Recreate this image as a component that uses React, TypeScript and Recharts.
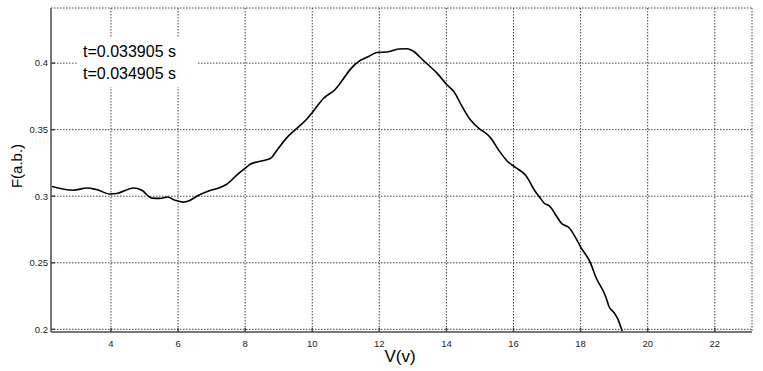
import React from 'react';
import { LineChart, Line, XAxis, YAxis, CartesianGrid } from 'recharts';

const voltages = [
  2.21, 2.88, 3.28, 3.57, 3.97, 4.17, 4.67, 4.92, 5.22, 5.46, 5.69, 5.91, 6.16, 6.31, 6.61, 6.91,
  7.25, 7.45, 7.8, 8.05, 8.15, 8.45, 8.75, 8.95, 9.25, 9.54, 9.84, 10.02, 10.34, 10.69, 10.89,
  11.14, 11.43, 11.68, 11.93, 12.23, 12.58, 12.83, 13.03, 13.23, 13.42, 13.72, 14.02, 14.22,
  14.47, 14.72, 14.97, 15.31, 15.56, 15.81, 16.06, 16.36, 16.66, 16.81, 16.91, 17.05, 17.45,
  17.65, 17.9, 18.0, 18.3, 18.45, 18.75, 18.85, 19.0, 19.1, 19.27,
];
const forces = [
  0.3075, 0.3045, 0.3062, 0.305, 0.3017, 0.302, 0.3062, 0.3045, 0.2986, 0.2984, 0.2994, 0.2969,
  0.2956, 0.2964, 0.3007, 0.3039, 0.3065, 0.309, 0.317, 0.322, 0.324, 0.3263, 0.3283, 0.3346,
  0.3442, 0.351, 0.358, 0.3635, 0.3736, 0.3804, 0.3869, 0.3955, 0.402, 0.405, 0.408, 0.4083,
  0.4106, 0.4108, 0.4087, 0.404, 0.3995, 0.3925, 0.3836, 0.3786, 0.3673, 0.3572, 0.351, 0.3442,
  0.3346, 0.3265, 0.3216, 0.3158, 0.3032, 0.2982, 0.2949, 0.2931, 0.2793, 0.2765, 0.2667, 0.262,
  0.2496, 0.2395, 0.2245, 0.217, 0.2125, 0.2083, 0.1964,
];
const xTicks = [4, 6, 8, 10, 12, 14, 16, 18, 20, 22];
const yTicks = [0.2, 0.25, 0.3, 0.35, 0.4];
const xDomain: [number, number] = [2.212, 23.11];
const yDomain: [number, number] = [0.198, 0.4414];
const annotations = ['t=0.033905 s', 't=0.034905 s'];
const xLabel = 'V(v)';
const yLabel = 'F(a.b.)';

const data = voltages.map((v, i) => ({ v, f: forces[i] }));

const FONT = '"Liberation Sans", Arial, sans-serif';
const tickStyle = { fontSize: 9.5, fill: '#222', fontFamily: FONT };

export default function App() {
  return (
    <div style={{ position: 'absolute', left: 0, top: 0, width: 763, height: 371, background: '#fff' }}>
      <LineChart width={763} height={371} data={data} margin={{ top: 8, right: 11, left: 11, bottom: 19 }}>
        <CartesianGrid stroke="#444" strokeDasharray="1.5 1.5" strokeWidth={1} xAxisId="b" yAxisId="l" />
        <XAxis
          xAxisId="b"
          dataKey="v"
          type="number"
          domain={xDomain}
          ticks={xTicks}
          allowDataOverflow
          height={20}
          tickSize={-4}
          tickMargin={12}
          tick={tickStyle}
          axisLine={{ stroke: '#777', strokeWidth: 2 }}
          tickLine={{ stroke: '#444', strokeWidth: 1.5 }}
        />
        <XAxis
          xAxisId="t"
          orientation="top"
          dataKey="v"
          type="number"
          domain={xDomain}
          ticks={xTicks}
          allowDataOverflow
          height={0}
          tickSize={-4}
          tick={false}
          axisLine={{ stroke: '#888', strokeWidth: 1.5 }}
          tickLine={{ stroke: '#444', strokeWidth: 1.5 }}
        />
        <YAxis
          yAxisId="l"
          type="number"
          domain={yDomain}
          ticks={yTicks}
          allowDataOverflow
          width={40}
          tickSize={-4}
          tickMargin={7}
          tick={tickStyle}
          axisLine={{ stroke: '#777', strokeWidth: 2 }}
          tickLine={{ stroke: '#444', strokeWidth: 1.5 }}
        />
        <YAxis
          yAxisId="r"
          orientation="right"
          type="number"
          domain={yDomain}
          ticks={yTicks}
          allowDataOverflow
          width={0}
          tickSize={-4}
          tick={false}
          axisLine={{ stroke: '#888', strokeWidth: 2 }}
          tickLine={{ stroke: '#444', strokeWidth: 1.5 }}
        />
        <Line
          xAxisId="b"
          yAxisId="l"
          dataKey="f"
          type="monotone"
          stroke="#000"
          strokeWidth={1.6}
          dot={false}
          isAnimationActive={false}
        />
      </LineChart>
      <svg
        width={763}
        height={371}
        style={{ position: 'absolute', left: 0, top: 0, pointerEvents: 'none' }}
      >
        <rect x={77} y={38} width={121} height={49} fill="#fff" />
        {annotations.map((t, i) => (
          <text key={t} x={83} y={57 + i * 21.5} fontSize={16} fontFamily={FONT} fill="#000">
            {t}
          </text>
        ))}
        <text x={400} y={362} fontSize={17} fontFamily={FONT} textAnchor="middle" fill="#000">
          {xLabel}
        </text>
        <text
          x={22}
          y={166}
          fontSize={15}
          fontFamily={FONT}
          textAnchor="middle"
          fill="#000"
          transform="rotate(-90, 22, 166)"
        >
          {yLabel}
        </text>
      </svg>
    </div>
  );
}
